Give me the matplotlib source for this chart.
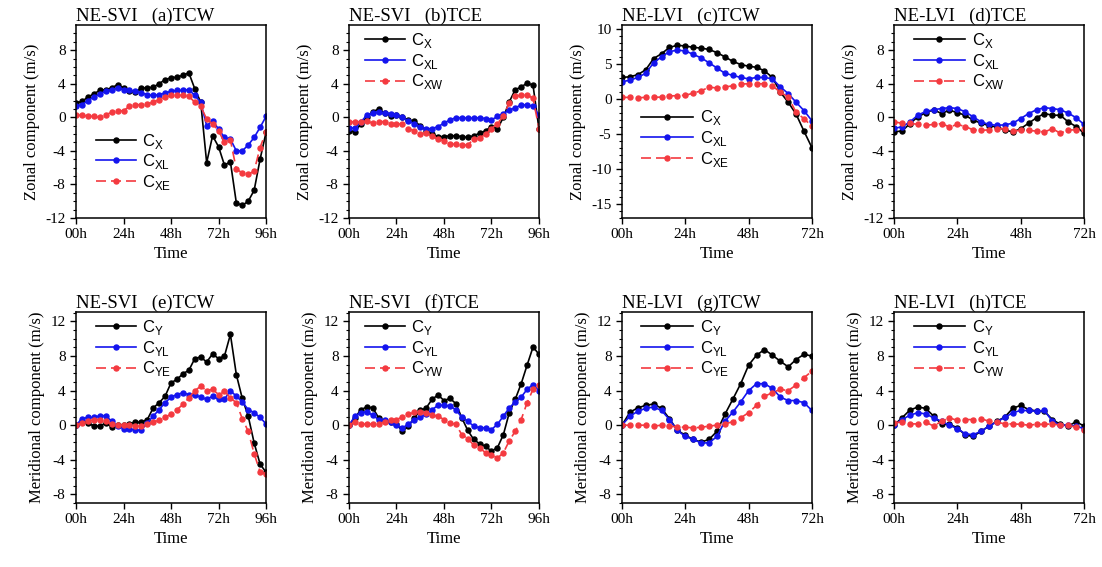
import matplotlib
matplotlib.use("Agg")
import matplotlib.pyplot as plt
import numpy as np

plt.rcParams['font.family'] = ['Liberation Serif', 'DejaVu Serif']
plt.rcParams['mathtext.fontset'] = 'custom'
plt.rcParams['mathtext.rm'] = 'Liberation Sans'
plt.rcParams['axes.unicode_minus'] = False

# time axes (hours, every 3 h)
t96 = np.arange(0, 97, 3)
t72 = np.arange(0, 73, 3)

# (a) NE-SVI TCW, zonal
a_cx = [1.7, 1.9, 2.4, 2.8, 3.2, 3.3, 3.5, 3.9, 3.5, 3.1, 3.0, 3.5, 3.5, 3.6, 4.0, 4.5, 4.7,
        4.8, 5.0, 5.3, 3.4, 1.8, -5.4, -2.2, -3.5, -5.7, -5.3, -10.2, -10.5, -10.0, -8.7, -5.0, -1.8]
a_cxl = [1.3, 1.5, 2.0, 2.4, 2.8, 3.1, 3.3, 3.5, 3.3, 3.2, 3.1, 2.9, 2.7, 2.6, 2.7, 2.9, 3.1,
         3.2, 3.2, 3.3, 2.6, 1.8, -1.0, -0.4, -1.4, -2.4, -2.6, -4.0, -4.0, -3.3, -2.4, -1.2, 0.1]
a_cxe = [0.25, 0.25, 0.15, 0.1, 0.0, 0.3, 0.6, 0.7, 0.8, 1.3, 1.5, 1.5, 1.6, 1.8, 2.1, 2.4, 2.6,
         2.65, 2.6, 2.5, 1.8, 1.3, -0.2, -0.8, -1.6, -3.0, -2.7, -6.2, -6.6, -6.8, -6.4, -3.6, -1.7]

# (b) NE-SVI TCE, zonal
b_cx = [-1.6, -1.7, -0.8, 0.05, 0.65, 1.0, 0.5, 0.2, 0.25, 0.0, -0.35, -0.45, -1.0, -1.6, -2.0, -2.3, -2.3,
        -2.2, -2.2, -2.3, -2.4, -2.2, -1.9, -1.6, -1.1, -1.4, 0.0, 1.85, 3.3, 3.6, 4.1, 3.8, -1.4]
b_cxl = [-1.3, -1.25, -0.55, 0.25, 0.5, 0.65, 0.5, 0.45, 0.3, 0.0, -0.45, -0.75, -1.15, -1.35, -1.35, -1.1, -0.7,
         -0.3, -0.05, -0.05, -0.1, -0.1, -0.05, -0.15, -0.3, 0.1, 0.45, 0.85, 1.15, 1.45, 1.5, 1.3, 0.25]
b_cxw = [-0.55, -0.55, -0.55, -0.45, -0.7, -0.55, -0.5, -0.85, -0.75, -0.85, -1.35, -1.6, -2.0, -1.9, -2.2, -2.6, -2.8,
         -3.2, -3.2, -3.3, -3.3, -2.6, -2.5, -2.0, -1.35, -0.75, 0.15, 1.75, 2.5, 2.65, 2.7, 2.25, -1.35]

# (c) NE-LVI TCW, zonal
c_cx = [3.1, 3.2, 3.5, 4.2, 5.8, 6.5, 7.4, 7.7, 7.6, 7.4, 7.3, 7.1, 6.65,
        6.05, 5.4, 4.95, 4.7, 4.55, 4.05, 3.1, 1.0, -0.45, -2.15, -4.6, -6.95]
c_cxl = [2.5, 2.7, 3.1, 3.7, 5.2, 6.05, 6.8, 7.0, 6.9, 6.4, 5.9, 5.2, 4.45,
         3.7, 3.4, 3.1, 2.9, 3.1, 3.1, 2.9, 1.75, 0.8, -0.45, -1.65, -3.1]
c_cxe = [0.25, 0.25, 0.2, 0.25, 0.25, 0.3, 0.45, 0.5, 0.55, 0.85, 1.2, 1.7, 1.6,
         1.75, 1.9, 2.15, 2.2, 2.2, 2.2, 1.9, 1.0, 0.3, -1.9, -2.8, -3.9]

# (d) NE-LVI TCE, zonal
d_cx = [-1.7, -1.65, -0.75, 0.05, 0.55, 0.9, 0.45, 0.85, 0.55, 0.25, -0.35, -0.7, -1.0,
        -1.15, -1.5, -1.75, -1.35, -0.7, -0.05, 0.45, 0.25, 0.25, -0.55, -1.1, -1.9]
d_cxl = [-1.3, -1.15, -0.55, 0.25, 0.7, 0.9, 1.05, 1.15, 1.05, 0.65, 0.05, -0.55, -0.85,
         -0.95, -0.9, -0.7, -0.15, 0.45, 0.9, 1.15, 1.05, 0.9, 0.5, -0.05, -0.85]
d_cxw = [-0.55, -0.7, -0.7, -0.85, -0.95, -0.85, -0.75, -1.15, -0.85, -1.1, -1.5, -1.55, -1.5,
         -1.35, -1.35, -1.65, -1.55, -1.55, -1.65, -1.75, -1.35, -1.9, -1.5, -1.5, -1.35]

# (e) NE-SVI TCW, meridional
e_cy = [0.0, 0.45, 0.25, -0.1, -0.1, 0.25, -0.2, 0.0, 0.0, 0.15, 0.35, 0.35, 0.65, 2.0, 2.6, 3.35, 4.9,
        5.3, 5.95, 6.35, 7.7, 7.9, 7.3, 8.25, 7.7, 8.0, 10.5, 5.85, 3.1, 1.05, -2.05, -4.5, -5.45]
e_cyl = [0.0, 0.75, 0.9, 0.9, 1.1, 1.1, 0.45, -0.1, -0.4, -0.4, -0.6, -0.55, 0.25, 1.05, 1.8, 2.6, 3.25,
         3.55, 3.75, 3.55, 3.5, 3.25, 3.0, 3.35, 3.0, 3.0, 4.0, 3.35, 2.7, 1.8, 1.45, 0.9, 0.15]
e_cye = [0.0, 0.25, 0.45, 0.65, 0.65, 0.45, 0.15, 0.0, 0.0, 0.0, -0.1, -0.1, 0.1, 0.4, 0.55, 0.9, 1.3,
         1.8, 2.4, 3.15, 4.0, 4.5, 4.0, 4.15, 3.55, 3.95, 3.15, 2.6, 0.75, -0.7, -3.3, -5.4, -5.7]

# (f) NE-SVI TCE, meridional
f_cy = [0.0, 0.85, 1.8, 2.1, 2.0, 0.85, 0.45, 0.35, 0.1, -0.7, -0.1, 0.85, 1.7, 2.0, 3.0, 3.5, 2.85,
        3.1, 2.5, 0.85, -0.6, -1.65, -2.15, -2.45, -3.0, -2.6, -1.1, 1.45, 3.0, 4.8, 6.95, 9.05, 8.2]
f_cyl = [0.0, 1.05, 1.45, 1.55, 1.15, 0.65, 0.55, 0.4, 0.0, -0.3, 0.1, 0.65, 0.9, 1.25, 1.8, 2.3, 2.3,
         2.2, 1.8, 0.9, 0.45, -0.1, -0.3, -0.3, -0.5, 0.1, 1.05, 2.0, 2.7, 3.25, 4.15, 4.7, 4.0]
f_cyw = [0.0, 0.4, 0.15, 0.1, 0.15, 0.1, 0.4, 0.65, 0.65, 0.95, 1.25, 1.5, 1.55, 1.45, 1.15, 1.05, 0.65,
         0.25, 0.1, -1.1, -1.55, -2.3, -2.6, -3.2, -3.4, -3.8, -3.2, -1.8, -0.7, 0.65, 2.6, 4.15, 4.6]

# (g) NE-LVI TCW, meridional
g_cy = [0.0, 1.5, 2.0, 2.3, 2.45, 1.95, 0.75, -0.6, -1.15, -1.65, -1.95, -1.65, -0.7,
        1.25, 3.0, 4.8, 6.95, 8.1, 8.75, 8.1, 7.4, 6.75, 7.6, 8.2, 8.0]
g_cyl = [0.0, 1.05, 1.6, 1.95, 2.1, 1.7, 0.65, -0.6, -1.3, -1.65, -2.05, -2.05, -1.3,
         0.45, 1.5, 2.7, 4.0, 4.8, 4.8, 4.25, 3.25, 2.85, 2.85, 2.6, 1.7]
g_cye = [0.0, 0.0, 0.0, 0.0, -0.1, 0.0, -0.1, -0.2, -0.25, -0.3, -0.25, -0.1, 0.0,
         0.15, 0.4, 0.85, 1.45, 2.3, 3.35, 3.75, 4.15, 4.0, 4.65, 5.5, 6.25]

# (h) NE-LVI TCE, meridional
h_cy = [0.0, 0.85, 1.75, 2.1, 1.95, 1.05, 0.15, 0.1, -0.3, -1.15, -1.3, -0.7, -0.1,
        0.45, 0.95, 1.95, 2.3, 1.8, 1.65, 1.6, 0.65, 0.1, -0.1, 0.4, -0.1]
h_cyl = [0.0, 0.65, 1.15, 1.45, 1.3, 0.85, 0.45, 0.0, -0.4, -1.0, -1.1, -0.7, -0.1,
         0.4, 0.9, 1.45, 1.7, 1.7, 1.6, 1.7, 0.45, 0.0, 0.0, -0.1, -0.4]
h_cyw = [0.25, 0.4, 0.15, 0.15, 0.35, -0.1, 0.45, 0.85, 0.55, 0.65, 0.65, 0.75, 0.45,
         0.35, 0.15, 0.15, 0.1, 0.0, 0.1, 0.1, 0.15, 0.0, 0.0, -0.25, -0.5]

panels = [
    ("NE-SVI   (a)TCW", t96, a_cx, a_cxl, a_cxe, ["X", "XL", "XE"]),
    ("NE-SVI   (b)TCE", t96, b_cx, b_cxl, b_cxw, ["X", "XL", "XW"]),
    ("NE-LVI   (c)TCW", t72, c_cx, c_cxl, c_cxe, ["X", "XL", "XE"]),
    ("NE-LVI   (d)TCE", t72, d_cx, d_cxl, d_cxw, ["X", "XL", "XW"]),
    ("NE-SVI   (e)TCW", t96, e_cy, e_cyl, e_cye, ["Y", "YL", "YE"]),
    ("NE-SVI   (f)TCE", t96, f_cy, f_cyl, f_cyw, ["Y", "YL", "YW"]),
    ("NE-LVI   (g)TCW", t72, g_cy, g_cyl, g_cye, ["Y", "YL", "YE"]),
    ("NE-LVI   (h)TCE", t72, h_cy, h_cyl, h_cyw, ["Y", "YL", "YW"]),
]

# legend placement (axes fraction of upper-left corner), handle length
leg_pos = [(0.05, 0.50, 2.4), (0.03, 1.02, 2.4), (0.05, 0.62, 3.1), (0.05, 1.02, 3.1),
           (0.05, 1.02, 2.4), (0.03, 1.02, 2.4), (0.05, 1.02, 3.1), (0.05, 1.02, 3.1)]

fig = plt.figure(figsize=(11.02, 5.67), dpi=100)
lefts = [0.069, 0.3167, 0.5644, 0.8113]
width = 0.1724

red = '#f43a40'
blue = '#1414ee'

for i, (title, t, s1, s2, s3, subs) in enumerate(panels):
    row, col = divmod(i, 4)
    if row == 0:
        ax = fig.add_axes([lefts[col], 0.6155, width, 0.3404])
    else:
        ax = fig.add_axes([lefts[col], 0.1129, width, 0.3369])

    ax.plot(t, s1, color='black', lw=1.2, marker='o', ms=3.6,
            label=r'C$_{\mathregular{%s}}$' % subs[0])
    ax.plot(t, s2, color=blue, lw=1.2, marker='o', ms=3.6,
            label=r'C$_{\mathregular{%s}}$' % subs[1])
    ax.plot(t, s3, color=red, lw=1.2, marker='o', ms=3.6, dashes=(6, 3),
            label=r'C$_{\mathregular{%s}}$' % subs[2])

    tmax = t[-1]
    ax.set_xlim(0, tmax)
    ax.set_xticks(np.arange(0, tmax + 1, 24))
    ax.set_xticklabels(['%02dh' % h for h in range(0, tmax + 1, 24)])

    if row == 0:
        if col == 2:
            ax.set_ylim(-17, 10.6)
            ax.set_yticks([-15, -10, -5, 0, 5, 10])
        else:
            ax.set_ylim(-12, 11)
            ax.set_yticks([-12, -8, -4, 0, 4, 8])
        ax.set_ylabel('Zonal component (m/s)', fontsize=12)
    else:
        ax.set_ylim(-9, 13.1)
        ax.set_yticks([-8, -4, 0, 4, 8, 12])
        ax.set_ylabel('Meridional component (m/s)', fontsize=12)
    ax.set_yticks(np.arange(np.ceil(ax.get_ylim()[0]), ax.get_ylim()[1], 1), minor=True)
    ax.set_xlabel('Time', fontsize=12, labelpad=3)

    ax.tick_params(axis='both', which='major', direction='out', length=4,
                   labelsize=11, width=1)
    ax.tick_params(axis='y', which='minor', direction='out', length=2, width=0.8)
    for sp in ax.spines.values():
        sp.set_linewidth(1.1)

    ax.set_title(title, loc='left', fontsize=13.5, pad=2)

    lx, ly, hl = leg_pos[i]
    ax.legend(loc='upper left', bbox_to_anchor=(lx, ly), frameon=False,
              handlelength=hl, handletextpad=0.4, labelspacing=0.1,
              borderaxespad=0.2, prop={'family': 'Liberation Sans', 'size': 12})

fig.savefig('out.png', dpi=100)
